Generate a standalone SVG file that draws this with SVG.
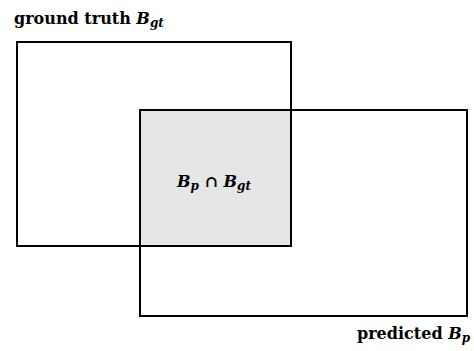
<svg xmlns="http://www.w3.org/2000/svg" width="474" height="351" viewBox="0 0 474 351">
<style>
.box{fill:none;stroke:#000;stroke-width:2}
.t{font-family:"DejaVu Serif","Liberation Serif",serif;font-size:16px;font-weight:bold;fill:#000}
.m{font-style:italic}
.s{font-style:italic;font-size:12px}
</style>
<rect width="474" height="351" fill="#fff"/>
<g id="intersection">
<rect x="140" y="110" width="151" height="136" fill="#e6e6e6"/>
<text class="t" x="214" y="187" text-anchor="middle"><tspan class="m">B</tspan><tspan class="s" dy="3">p</tspan><tspan dy="-3"> ∩ </tspan><tspan class="m">B</tspan><tspan class="s" dy="3">gt</tspan></text>
</g>
<g id="ground-truth">
<rect class="box" x="17" y="42" width="274" height="204"/>
<text class="t" x="14" y="24">ground truth <tspan class="m">B</tspan><tspan class="s" dy="3">gt</tspan></text>
</g>
<g id="predicted">
<rect class="box" x="140" y="110" width="327" height="206"/>
<text class="t" x="357" y="339">predicted <tspan class="m">B</tspan><tspan class="s" dy="3">p</tspan></text>
</g>
<g id="connectors"></g>
</svg>
